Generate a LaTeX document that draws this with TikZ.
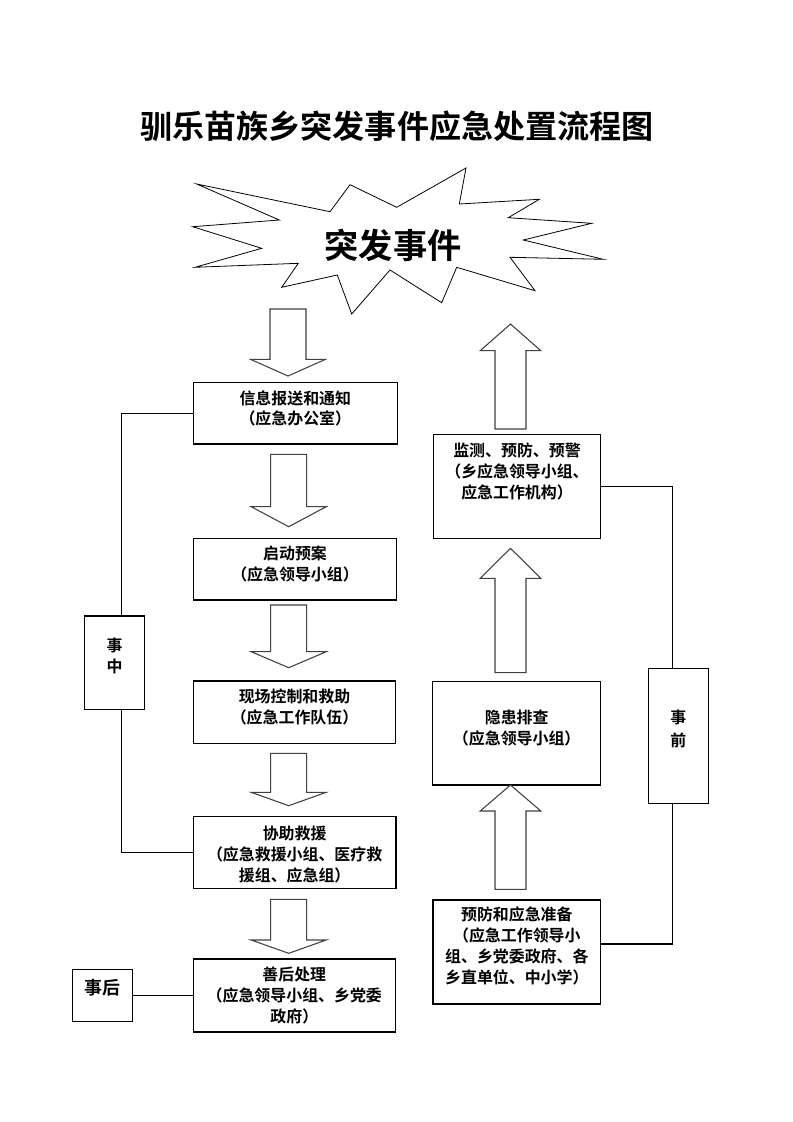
\documentclass[tikz,border=0pt]{standalone}
\usepackage{fontspec}
\setmainfont{Noto Sans CJK SC}[BoldFont={Noto Sans CJK SC Bold}]
\usetikzlibrary{fit}

\tikzset{
    box/.style={draw, line width=0.9pt, inner sep=0pt},
    boxtext/.style={anchor=north, align=center, inner sep=0pt,
        font=\fontsize{12}{15.8}\selectfont\bfseries},
    link/.style={line width=0.9pt},
    arrowbox/.style={draw=black!75, line width=0.8pt, fill=white, line join=miter}
}
% block arrow: x, tail y, head base y, tip y, half shaft, half head
\newcommand{\blockarr}[6]{%
    \draw[arrowbox] (#1-#5,#2) -- (#1+#5,#2) -- (#1+#5,#3) -- (#1+#6,#3)
        -- (#1,#4) -- (#1-#6,#3) -- (#1-#5,#3) -- cycle;}

\begin{document}
\begin{tikzpicture}[x=0.2648mm, y=-0.2648mm]
    \useasboundingbox (0,0) rectangle (793,1122);

    \node[font=\fontsize{24.2}{28}\selectfont\bfseries] (title) at (397,126) {驯乐苗族乡突发事件应急处置流程图};

    % starburst
    \draw[line width=0.6pt] (196.7,184) -- (330,211.7) -- (350,184.7) -- (396.7,207.3)
        -- (466,168) -- (459.3,204) -- (539.3,199.3) -- (508.3,217.7) -- (591.7,223.3)
        -- (523.3,240) -- (603.3,259.3) -- (510,257.3) -- (535,290.7) -- (456.7,267.3)
        -- (441.7,302.7) -- (390,270) -- (351.7,314) -- (337.3,275) -- (281.7,287.3)
        -- (298.3,263.3) -- (195,267.3) -- (261.7,248.3) -- (192.7,226.7) -- (279.3,220)
        -- cycle;
    \node[font=\fontsize{25.8}{30}\selectfont\bfseries] (event) at (393,245) {突发事件};

    % left column
    \node[box, fit={(193.3,382.7) (397.3,444)}] (b1) {};
    \node[box, fit={(193.3,538.3) (396.7,600)}] (b2) {};
    \node[box, fit={(193.3,681) (395.7,743.3)}] (b3) {};
    \node[box, fit={(193.3,816.7) (396,888.3)}] (b4) {};
    \node[box, fit={(193.3,959) (395.3,1032)}] (b5) {};
    \node[boxtext] at ([yshift=-2.1mm]b1.north) {信息报送和通知\\（应急办公室）};
    \node[boxtext] at ([yshift=-2.1mm]b2.north) {启动预案\\（应急领导小组）};
    \node[boxtext] at ([yshift=-2.1mm]b3.north) {现场控制和救助\\（应急工作队伍）};
    \node[boxtext] at ([yshift=-2.5mm]b4.north) {协助救援\\（应急救援小组、医疗救\\援组、应急组）};
    \node[boxtext] at ([yshift=-2.2mm]b5.north) {善后处理\\（应急领导小组、乡党委\\政府）};

    \node[box, fit={(84.7,616) (144.3,709.3)}, align=center,
        font=\fontsize{12}{16.5}\selectfont\bfseries] (zz) {事\\中};
    \node[box, fit={(72.7,969.3) (132.3,1021.7)},
        font=\fontsize{13.5}{16}\selectfont\bfseries] (zh) {事后};

    \blockarr{288}{309}{359.3}{376}{18}{37.5}
    \blockarr{288.7}{454.3}{506.7}{526.7}{18}{37.5}
    \blockarr{288.7}{605}{651.7}{667.7}{18}{37.5}
    \blockarr{288.7}{753.3}{792.3}{805.7}{18}{37.5}
    \blockarr{288.7}{899.3}{940}{953.3}{18}{37.5}

    \draw[link] (b1.west) -| ([xshift=1.8mm]zz.north);
    \draw[link] ([xshift=1.8mm]zz.south) |- (b4.west);
    \draw[link] (zh.east) -- (b5.west);

    % right column
    \node[box, fit={(433.3,434.3) (600.7,538.3)}] (jc) {};
    \node[box, fit={(432.7,681.7) (600.7,785)}] (yh) {};
    \node[box, fit={(433,900) (600.7,1004)}] (yf) {};
    \node[boxtext] at ([yshift=-2.4mm]jc.north) {监测、预防、预警\\（乡应急领导小组、\\应急工作机构）};
    \node[boxtext] at ([yshift=-7.6mm]yh.north) {隐患排查\\（应急领导小组）};
    \node[boxtext] at ([yshift=-1.9mm]yf.north) {预防和应急准备\\（应急工作领导小\\组、乡党委政府、各\\乡直单位、中小学）};

    \node[box, fit={(648.3,668.3) (708.3,803.3)}, align=center,
        font=\fontsize{12}{17}\selectfont\bfseries] (sq) {事\\前};

    \blockarr{510.5}{429}{350.7}{324}{15.5}{30.3}
    \blockarr{510.5}{672.7}{578.3}{548.3}{15.5}{30.3}
    \blockarr{510.5}{889.3}{811}{785}{15.5}{30.3}

    \draw[link] (jc.east) -| ([xshift=-1.6mm]sq.north);
    \draw[link] ([xshift=-1.6mm]sq.south) |- ([yshift=2.1mm]yf.east);
\end{tikzpicture}
\end{document}
